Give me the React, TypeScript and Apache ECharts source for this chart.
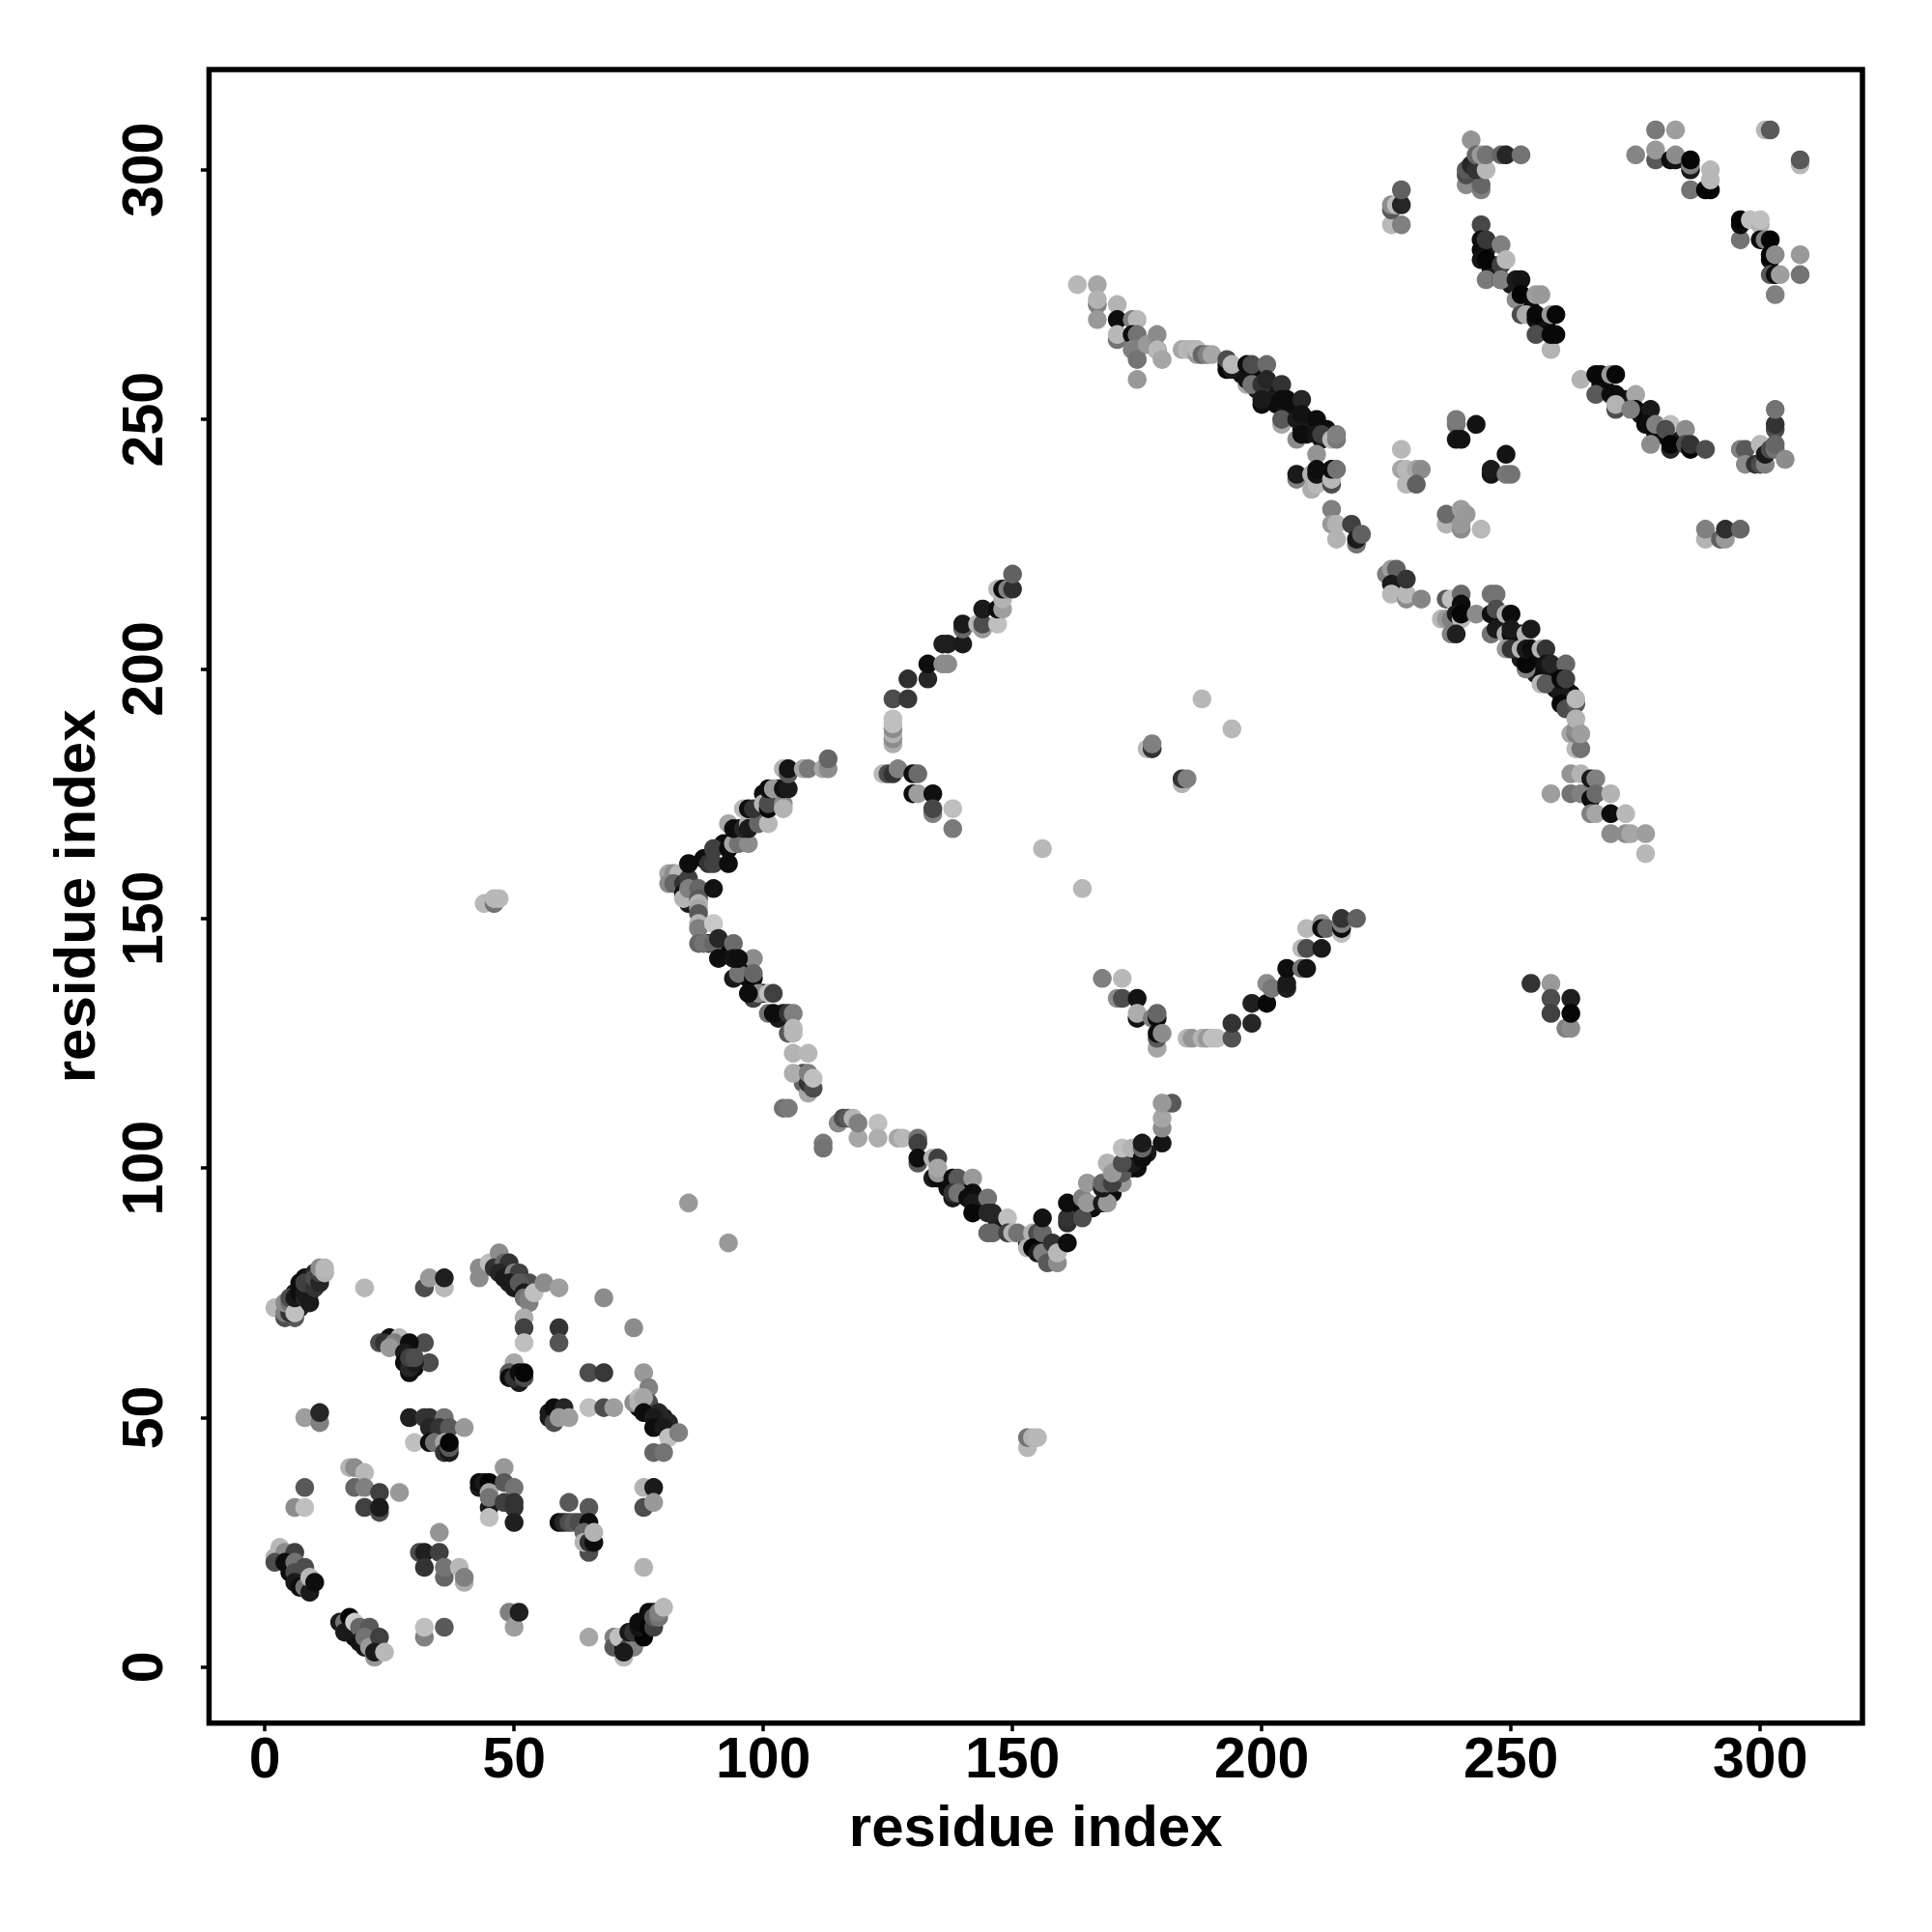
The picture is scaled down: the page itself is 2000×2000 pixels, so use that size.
import React, { useEffect, useRef } from "react";
import * as echarts from "echarts";

type P = [number, number, number];

const tickValues = [0, 50, 100, 150, 200, 250, 300];
const axisTitle = "residue index";

// [residue x, residue y, grey level in percent]
const denseUnder: P[] = [
  [7,77,5],[8,78,5],[9,78,10],[10,79,15],[9,76,5],[8,76,5],[6,75,10],[6,20,5],[5,20,5],[7,18,5],[8,18,5],[7,17,5],[16,8,5],[17,8,5],[18,7,5],[18,6,5],[19,6,5],[20,4,10],[74,5,5],[75,6,5],[76,7,5],[77,9,5],[76,9,5],[77,10,10],[78,11,5],[74,6,5],[49,79,10],[50,77,5],[48,80,10],[51,76,5],[52,76,10],[75,52,5],[77,51,5],[78,51,5],[79,49,5],[80,50,10],[81,47,10],[29,61,5],[29,63,5],[30,60,5],
  [84,156,5],[85,155,10],[86,155,5],[85,153,10],[86,154,10],[87,155,20],[89,145,15],[92,144,10],[92,143,10],[93,143,5],[96,140,5],[96,139,5],[97,138,5],[100,135,5],[103,130,10],[104,131,10],[108,119,30],[108,117,40],
  [137,97,5],[137,96,5],[140,96,5],[143,93,5],[144,92,5],[147,89,10],[153,85,5],[155,85,5],[156,84,10],[157,84,5],[157,83,10],[158,82,20],[158,83,5],[163,92,5],[166,92,5],[170,95,5],[171,98,5],[174,100,10],[175,100,5],[176,103,5],[177,103,10],
  [88,162,5],[92,165,5],[95,168,5],[99,172,5],[100,172,10],[100,175,5],[103,176,5],
  [193,261,5],[196,259,5],[198,259,5],[199,256,10],[201,255,5],[202,255,10],[203,253,5],[205,252,10],[206,252,5],[207,252,5],[208,248,5],[209,249,5],[209,250,5],[210,248,10],[212,246,10],[213,248,5],[209,247,10],
  [248,209,5],[249,209,5],[251,206,10],[252,207,5],[252,202,10],[254,201,5],[255,203,5],[255,199,10],[256,200,5],[258,199,10],[259,199,5],[259,196,5],[261,195,5],[260,196,5],[261,196,10],[262,195,5],
  [245,284,10],[244,284,5],[246,281,10],[246,280,5],[247,280,10],[250,277,10],[253,273,15],[254,272,5],[256,270,10],[257,269,5],[256,268,10],[257,268,5],[257,270,5],[268,257,5],[269,256,5],[272,254,5],[273,254,10],[276,251,10],[277,250,5],[279,247,5],[280,247,5],[283,246,5],[284,246,10],
];
const lowerA: P[] = [
  [2,72,72],[4,70,30],[6,70,35],[4,71,50],[5,71,20],[4,73,55],[5,73,45],[6,73,25],[5,74,30],[7,72,15],[7,73,10],[6,71,75],[6,74,10],[7,75,5],[7,76,5],[8,74,15],[8,75,10],[9,73,10],[9,75,10],[9,77,5],[8,77,25],[10,76,20],[10,78,30],[11,77,15],[11,79,25],[11,80,55],[12,79,70],[12,80,72],
  [20,76,72],[32,76,30],[33,78,60],[36,76,72],[36,78,12],[43,80,55],[43,78,55],[45,81,75],[47,83,55],[46,80,20],[48,81,40],[49,81,20],[47,79,15],[48,78,10],[50,79,50],[51,79,25],[50,76,10],[49,77,10],[52,77,30],[53,77,30],[51,77,35],[52,75,10],[52,74,45],[53,74,50],[53,73,50],[54,75,75],[56,77,55],[59,76,62],[68,74,55],[74,68,55],
  [52,70,68],[52,68,25],[52,65,75],[59,68,20],[59,65,33],
  [23,65,30],[25,66,5],[24,65,20],[27,66,72],[26,65,50],[25,64,60],[32,65,30],[29,65,5],[33,61,30],[28,63,10],[28,61,5],[29,59,5],[29,60,15],[30,61,10],[29,62,25],[30,62,30],
  [50,61,65],[49,59,35],[49,58,5],[51,57,10],[50,58,20],[51,59,5],[52,58,30],[52,59,2],
  [65,59,30],[68,59,22],[76,59,60],[77,56,50],[74,53,55],[75,54,75],[75,53,70],[77,53,30],[76,54,65],[76,51,5],[79,51,15],[78,50,10],[78,48,5],[81,49,15],[80,48,10],[81,46,75],[83,47,50],[78,43,40],[80,43,45],
  [65,52,75],[68,52,30],[70,52,62],[57,51,10],[57,50,10],[58,49,30],[58,52,5],[60,52,15],[59,50,60],[61,50,62],
  [8,50,62],[11,49,50],[11,51,15],
];
const lowerB: P[] = [
  [29,50,12],[32,50,20],[33,50,20],[36,50,45],[33,48,15],[35,48,20],[37,48,35],[40,48,60],[30,45,75],[33,45,5],[34,45,45],[36,45,65],[36,43,20],[37,43,10],[37,44,35],[37,45,2],
  [17,40,70],[18,40,55],[20,39,72],[18,36,40],[20,36,50],[23,35,25],[27,35,60],[20,32,25],[23,31,30],[23,32,10],
  [8,36,35],[6,32,55],[8,32,75],
  [48,40,60],[43,36,10],[43,37,5],[44,37,10],[45,37,2],[45,35,65],[45,32,10],[45,34,45],[45,30,75],[48,37,35],[50,36,45],[48,33,25],[50,32,20],[50,33,20],[50,29,12],
  [61,33,35],[65,32,35],[59,29,5],[60,29,15],[61,29,30],[62,29,35],[63,29,30],[65,29,5],[64,27,40],[65,23,30],[64,25,70],[65,25,20],[66,25,5],[66,27,70],
  [76,36,70],[78,36,10],[76,32,30],[78,33,60],[76,20,70],
  [35,27,58],[31,23,30],[32,23,12],[35,23,25],[32,20,20],[36,18,40],[36,20,45],[39,20,72],[40,17,68],[40,18,50],
  [2,22,70],[3,24,72],[4,23,55],[6,23,25],[2,21,30],[4,21,5],[5,19,5],[6,21,45],[8,20,30],[6,19,30],[6,17,10],[7,16,5],[8,16,45],[9,15,10],[9,18,72],[10,17,5],
  [15,9,10],[16,9,45],[17,10,2],[16,7,10],[18,9,80],[19,8,40],[21,8,35],[19,5,8],[20,6,45],[21,4,60],[23,6,25],[22,2,60],[22,3,10],[24,3,72],
  [32,6,50],[32,8,75],[36,8,35],[49,11,50],[50,8,62],[51,11,12],[65,6,65],
  [70,6,50],[70,4,35],[72,4,5],[72,2,72],[71,6,75],[73,4,30],[74,4,50],[72,3,10],[73,7,10],[74,7,20],[76,6,2],[75,8,8],[75,9,5],[77,8,2],[78,8,25],[77,11,5],[78,10,35],[79,10,45],[79,11,50],[80,12,72],
];
const diamondLower: P[] = [
  [85,93,60],[93,85,60],[44,153,72],[46,153,45],[46,154,72],[47,154,72],[153,44,72],[153,46,45],[154,46,70],[155,46,72],
  [98,142,55],[94,138,10],[95,139,45],[98,138,2],[98,139,40],[98,134,25],[99,135,55],[101,135,75],[102,135,25],[97,135,5],[101,131,45],[102,131,5],[105,131,20],[106,131,50],[105,127,35],[106,128,72],[106,127,72],
  [106,123,70],[109,123,72],[106,119,68],[109,115,65],[109,117,20],[110,116,30],[109,119,50],[110,118,75],
  [104,112,45],[105,112,48],[112,105,48],[112,104,45],
  [115,109,55],[116,110,30],[117,110,35],[118,110,70],[119,106,65],[119,109,50],[123,109,75],[123,106,68],[127,106,65],[128,106,72],[131,106,45],[131,105,25],[131,101,35],[131,102,5],[134,102,70],[135,102,25],[134,98,10],[135,98,5],[135,99,60],[135,100,65],[138,98,5],[139,98,35],[142,98,60],[138,94,10],[138,95,20],[139,95,45],[141,94,5],[142,95,5],[142,93,10],[142,91,3],[145,94,45],[145,91,15],[146,91,15],[145,87,40],[146,87,40],[149,90,75],[149,87,25],[150,87,70],[151,87,45],
  [153,84,70],[154,87,70],[155,87,30],[154,84,2],[155,83,10],[156,87,40],[156,90,7],[156,83,50],[158,85,20],[157,81,35],[159,81,55],[159,83,72],[161,85,5],
  [161,89,18],[161,90,20],[161,93,5],[164,90,30],[164,94,50],[165,93,60],[165,97,60],[168,93,10],[169,93,60],[168,96,10],[169,97,40],[168,97,40],[169,101,70],
  [172,97,60],[170,97,25],[172,99,35],[170,99,60],[174,101,10],[172,101,30],[172,104,75],[174,104,70],[176,102,5],[176,104,40],[176,105,10],[180,105,8],[180,108,55],[180,110,65],[182,113,35],[180,113,60],
];
const diamondUpper: P[] = [
  [81,159,65],[82,159,55],[83,159,72],[81,157,55],[82,157,40],[84,157,20],[85,158,25],[84,155,5],[84,154,70],[85,156,50],[87,156,40],[87,154,35],[87,153,70],[87,152,65],[87,151,35],[87,149,70],[87,148,50],[90,149,78],[87,145,40],[88,145,45],[90,145,40],[91,146,15],[94,145,42],[91,142,5],[94,142,8],[95,142,6],[90,156,7],[85,161,5],
  [89,161,20],[90,161,25],[90,164,25],[93,161,5],[93,164,5],[94,165,65],[95,165,45],[97,165,55],[93,169,65],[94,168,5],[96,168,15],[97,169,70],[98,169,60],[97,168,10],[99,169,40],[101,169,72],[96,172,72],[97,172,5],[98,172,20],[100,173,70],[101,172,3],[101,173,30],[101,176,5],[102,176,60],[104,173,55],[104,172,70],[104,176,7],[105,176,10],[104,180,70],[105,179,35],[105,180,8],[108,180,65],[109,180,47],[112,180,65],[113,180,55],[113,182,40],
  [126,185,68],[126,186,55],[126,187,70],[126,188,55],[126,189,75],[126,190,75],[126,194,30],[129,194,22],[129,198,18],[133,198,15],[133,201,5],[136,201,55],[137,201,55],[136,205,12],[137,205,12],[140,205,10],[140,208,40],[140,209,10],[143,209,72],[144,208,60],[144,209,30],[144,212,10],[147,209,75],[147,212,5],[148,212,62],[148,214,70],[147,216,72],[148,216,5],[149,216,50],[150,216,18],[150,219,38],
  [124,179,72],[125,179,30],[126,179,20],[127,180,50],[130,179,5],[131,179,42],[130,175,5],[131,175,62],[134,175,6],[134,171,50],[134,172,28],[138,172,75],[138,168,48],
  [156,164,72],[164,156,72],[188,194,72],[194,188,72],[177,184,72],[178,184,20],[178,185,50],[184,177,70],[184,178,20],[185,178,50],
  [168,138,50],[172,138,72],[171,134,55],[172,134,30],[175,134,7],[175,130,8],[175,131,68],[178,130,50],[179,130,5],[179,131,40],[179,124,65],[179,126,35],[179,127,5],[180,127,55],
  [185,126,72],[186,126,58],[188,126,70],[189,126,60],[190,126,75],[191,126,75],[194,126,32],[194,129,20],[198,129,15],[198,133,12],[201,133,3],[201,137,55],[202,136,47],[205,136,12],[205,137,10],[205,140,5],[208,140,45],[209,140,8],[208,144,72],[209,144,30],[212,144,10],[209,148,72],[212,149,60],[212,148,5],[213,148,40],[216,147,75],[216,148,5],[216,149,50],[216,150,20],[219,150,38],
  [254,137,20],[258,137,60],[258,134,30],[258,131,25],[262,134,12],[261,128,50],[262,128,55],[262,131,2],
];
const upperChain: P[] = [
  [163,277,72],[167,277,65],[167,273,50],[167,274,70],[167,270,60],[171,273,70],[171,270,5],[171,266,45],[171,267,72],[174,270,50],[175,270,72],[174,267,5],[175,267,45],[174,264,50],[175,264,50],[175,262,45],[175,258,60],[177,265,60],[179,267,55],[179,264,10],[179,264,72],[180,262,65],
  [184,264,65],[185,264,72],[186,264,70],[187,263,60],[187,264,72],[188,263,40],[189,263,50],[190,263,65],
  [193,260,2],[193,262,30],[194,260,10],[194,261,72],[197,257,68],[197,258,7],[197,261,5],[198,257,45],[198,261,30],[201,261,42],[200,257,20],[201,258,15],[200,253,5],[200,254,10],[204,257,20],[204,249,65],[204,250,35],[204,254,5],[205,254,5],[208,254,15],[207,250,10],[208,251,7],[211,250,5],[207,246,55],[208,247,5],[211,247,8],[212,247,25],[214,246,72],[215,246,47],[215,247,50],[211,243,58],
  [207,238,50],[207,239,10],[210,236,68],[210,239,70],[211,237,72],[211,239,8],[211,240,5],[214,237,30],[214,238,72],[214,240,5],[215,240,45],
  [214,232,50],[214,229,60],[215,226,70],[215,229,70],[218,229,25],[219,225,45],[219,226,10],[220,227,38],
  [225,219,50],[226,220,62],[227,220,38],[226,217,10],[226,215,72],[229,214,55],[229,215,72],[229,218,20],[232,214,52],
  [237,214,35],[238,214,75],[240,215,42],[240,213,5],[236,210,72],[237,210,60],[238,210,50],[239,211,10],[240,210,72],[240,211,2],[238,207,50],[239,207,12],[243,211,55],
  [246,215,45],[247,215,45],[246,211,5],[247,212,30],[246,207,45],[247,208,10],[249,207,70],[249,211,70],[250,211,5],[250,207,5],[250,208,10],[249,204,60],[250,204,20],[252,204,70],[253,207,70],[254,208,10],[253,200,50],[253,201,3],[253,204,10],[254,204,5],[256,204,70],[257,204,20],[257,201,8],[258,201,15],[256,197,72],[257,197,35],[261,201,40],[260,195,10],[260,198,3],[261,198,25],[260,193,3],[261,192,30],[263,193,35],[263,194,72],
  [262,187,65],[263,184,72],[264,184,45],[263,187,50],[263,188,55],[263,190,70],[264,187,62],
  [258,175,62],[262,175,45],[262,179,58],[264,179,70],[264,175,50],[266,178,10],[267,178,50],[266,174,5],[267,175,42],[270,175,70],[266,171,50],[267,171,65],[270,171,5],[273,171,72],[270,167,55],[273,167,55],[274,167,65],[277,167,62],[277,163,72],
];
const upperRight: P[] = [
  [226,289,72],[228,289,50],[226,292,35],[226,293,55],[227,293,75],[228,293,15],[228,296,38],
  [242,306,58],[241,297,55],[244,296,50],[244,297,40],[241,299,30],[241,300,35],[242,301,15],[243,300,20],[245,300,72],[243,303,40],[244,303,60],[245,303,45],[248,303,40],[249,303,15],[252,303,45],
  [279,308,48],[283,308,62],[301,308,72],[302,308,35],[275,303,52],[279,302,35],[279,304,60],[282,302,5],[283,302,8],[283,303,55],[286,300,10],[286,301,50],[286,302,2],[286,296,45],[289,296,2],[290,296,2],[290,298,72],[290,300,72],[308,301,72],[308,302,35],
  [296,286,45],[296,289,5],[296,290,2],[298,290,75],[300,289,70],[300,290,75],[300,286,5],[301,286,50],[302,286,2],[302,282,3],[302,283,2],[303,283,55],[302,279,35],[303,279,5],[304,279,62],[303,275,50],[308,283,60],[308,279,45],
  [244,289,28],[244,286,5],[245,286,22],[248,285,50],[244,282,8],[245,282,2],[245,278,48],[248,278,2],[248,281,25],[248,278,50],[249,282,72],[251,278,10],[252,278,8],[251,274,55],[252,275,2],[255,275,62],[256,275,60],[252,271,30],[253,271,68],[255,270,8],[255,271,3],[255,267,30],[258,264,70],[258,271,60],[259,271,3],[258,267,3],[259,267,3],
  [239,249,45],[239,250,48],[243,249,7],[239,246,8],[240,246,7],[249,243,8],[246,239,8],[246,240,10],[249,239,47],[250,239,45],
  [228,244,72],[228,240,65],[229,240,72],[231,240,65],[232,240,55],[229,237,72],[231,237,38],
  [237,229,70],[237,231,42],[240,228,55],[240,229,60],[240,232,62],[241,231,60],[244,228,72],
  [289,226,70],[289,228,50],[292,226,38],[293,226,60],[293,228,18],[296,228,40],
  [264,258,70],[267,255,35],[267,259,3],[268,259,3],[270,259,60],[271,259,3],[270,255,5],[271,255,5],[271,252,30],[271,253,70],[275,255,65],[275,252,3],[274,252,50],[278,252,10],[277,249,5],[279,249,50],[282,249,75],[281,248,30],[285,248,55],[278,245,55],[282,244,15],[282,245,2],[285,245,30],[286,244,2],[286,245,20],[289,244,30],
  [296,244,50],[297,244,35],[297,241,55],[299,241,20],[300,241,30],[301,241,50],[300,245,72],[301,243,10],[303,248,30],[303,249,20],[303,252,45],[302,244,30],[303,244,45],[303,245,40],[305,242,55],
];

const contacts: P[] = [...denseUnder, ...lowerA, ...lowerB, ...diamondLower, ...diamondUpper, ...upperChain, ...upperRight];

const grey = (g: number) => {
  const v = Math.round((g / 100) * 255);
  return `rgb(${v},${v},${v})`;
};

const FONT = "'Liberation Sans', Arial, sans-serif";

const axisBase = (min: number, max: number, nameGap: number) => ({
  type: "value" as const,
  min,
  max,
  name: axisTitle,
  nameLocation: "middle" as const,
  nameGap,
  nameMoveOverlap: false,
  nameTextStyle: { fontFamily: FONT, fontWeight: "bold" as const, fontSize: 60, color: "#000" },
  splitLine: { show: false },
  axisLine: { show: false, onZero: false },
  axisTick: { show: true, length: 8.5, customValues: tickValues, lineStyle: { color: "#000", width: 3.5 } },
});

export default function App() {
  const ref = useRef<HTMLDivElement>(null);
  useEffect(() => {
    const chart = echarts.init(ref.current!, undefined, { renderer: "svg" });
    chart.setOption({
      animation: false,
      backgroundColor: "#fff",
      grid: {
        left: 216.4, top: 72, right: 72, bottom: 216.3,
        show: true, borderColor: "#000", borderWidth: 5.5, backgroundColor: "transparent",
      },
      xAxis: {
        ...axisBase(-11.2, 320.5, 77),
        axisLabel: {
          customValues: tickValues, margin: 7, fontFamily: FONT, fontWeight: "bold", fontSize: 59, color: "#000",
          formatter: (v: number) => String(v),
        },
      },
      yAxis: {
        ...axisBase(-11.2, 320.1, 109),
        axisLabel: {
          customValues: tickValues, rotate: 90, margin: 68, fontFamily: FONT, fontWeight: "bold", fontSize: 59, color: "#000",
          formatter: (v: number) => String(v), align: "center", verticalAlign: "middle",
        },
      },
      series: [
        {
          type: "scatter",
          symbol: "circle",
          symbolSize: 19.5,
          data: contacts.map((p) => ({ value: [p[0], p[1]], itemStyle: { color: grey(p[2]) } })),
          itemStyle: { opacity: 1 },
          silent: true,
          large: false,
          clip: false,
        },
      ],
    });
    return () => chart.dispose();
  }, []);
  return <div ref={ref} style={{ position: "absolute", left: 0, top: 0, width: 2000, height: 2000 }} />;
}
